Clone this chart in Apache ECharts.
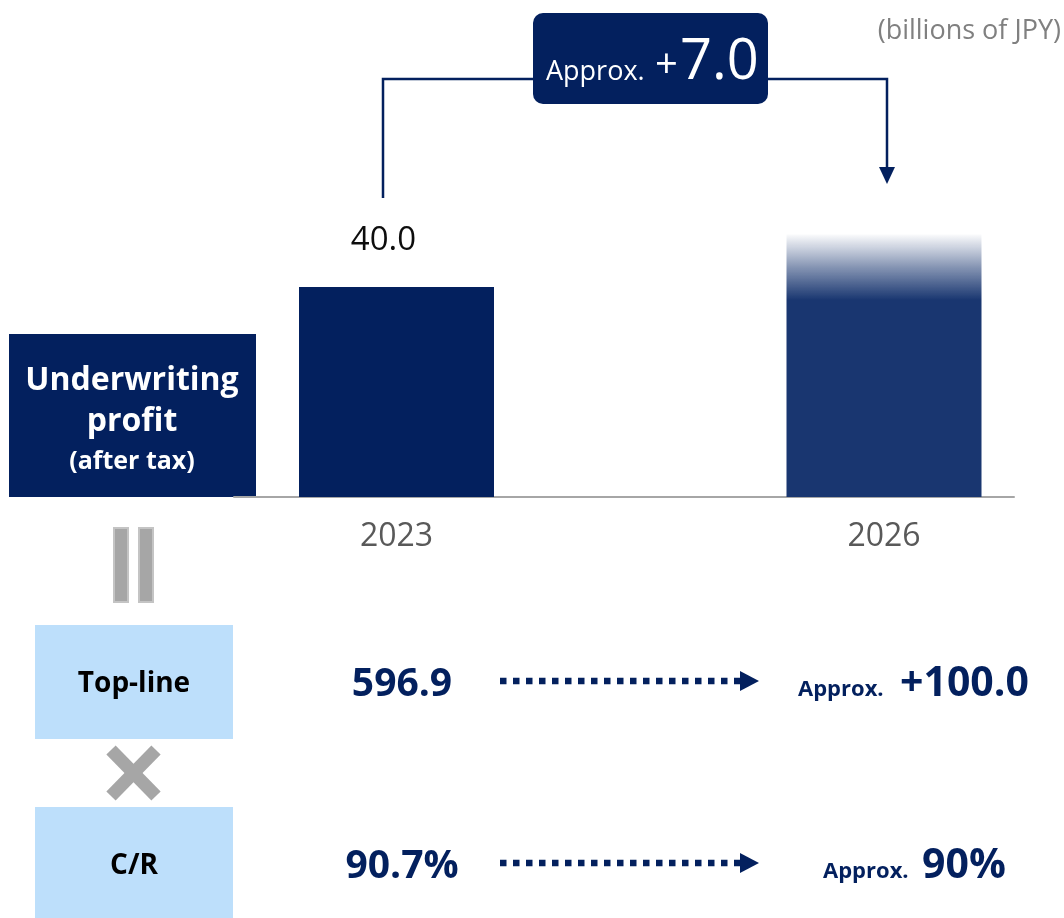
<!DOCTYPE html>
<html style="height: 100%">
<head>
<meta charset="utf-8">
<script src="https://cdn.jsdelivr.net/npm/echarts@6/dist/echarts.min.js"></script>
</head>
<body style="height: 100%; margin: 0; background: #fff">
<div id="container" style="width: 1064px; height: 918px"></div>
<script type="text/javascript">
// data
var years = [2023, 2026];
var profit = [40.0, 50.0];          // 2026 bar drawn to its faded top
var profitLabels = ['40.0', ''];
var deltaText = '+7.0';
var unitText = '(billions of JPY)';
var rowNames = ['Top-line', 'C/R'];
var rowNow = ['596.9', '90.7%'];
var rowTarget = ['+100.0', '90%'];

var NAVY = '#03205e';
var FONT = '"Open Sans", "Noto Sans", sans-serif';

var dom = document.getElementById('container');
var myChart = echarts.init(dom, null, { renderer: 'canvas' });

var fade = new echarts.graphic.LinearGradient(0, 0, 0, 1, [
    { offset: 0, color: 'rgba(25,54,112,0.02)' },
    { offset: 0.13, color: 'rgba(25,54,112,0.55)' },
    { offset: 0.25, color: '#193670' },
    { offset: 1, color: '#193670' }
]);

var barData = years.map(function (y, i) {
    return {
        value: [y, profit[i]],
        itemStyle: { color: i === 0 ? NAVY : fade },
        label: { show: profitLabels[i] !== '', formatter: profitLabels[i] }
    };
});

function txt(x, y, text, size, weight, color, align) {
    return {
        type: 'text', x: x, y: y, silent: true,
        style: {
            text: text, fontSize: size, fontWeight: weight, fontFamily: FONT,
            fill: color, align: align || 'center', verticalAlign: 'middle'
        }
    };
}

var graphics = [];
// connector from 2023 to 2026
graphics.push({ type: 'polyline', silent: true, shape: { points: [[383, 198], [383, 79], [535, 79]] },
    style: { stroke: NAVY, lineWidth: 2.5, fill: null } });
graphics.push({ type: 'polyline', silent: true, shape: { points: [[766, 79], [887, 79], [887, 170]] },
    style: { stroke: NAVY, lineWidth: 2.5, fill: null } });
graphics.push({ type: 'polygon', silent: true, shape: { points: [[879, 167], [895, 167], [887, 184]] },
    style: { fill: NAVY } });
graphics.push({ type: 'rect', silent: true, shape: { x: 533, y: 13, width: 235, height: 91, r: 10 },
    style: { fill: NAVY } });
graphics.push(txt(546, 72, 'Approx.', 27, 'normal', '#fff', 'left'));
graphics.push(txt(655, 67, deltaText.charAt(0), 40, 'normal', '#fff', 'left'));
graphics.push(txt(680, 63, deltaText.slice(1), 56, 'normal', '#fff', 'left'));
graphics.push(txt(1061, 31, unitText, 27, 'normal', '#808080', 'right'));

// left title box
graphics.push({ type: 'rect', silent: true, shape: { x: 9, y: 334, width: 247, height: 163 }, style: { fill: NAVY } });
graphics.push(txt(132, 381, 'Underwriting', 32, 'bold', '#fff'));
graphics.push(txt(132, 422, 'profit', 32, 'bold', '#fff'));
graphics.push(txt(132, 462, '(after tax)', 25, 'bold', '#fff'));

// "=" sign
[114, 139].forEach(function (x) {
    graphics.push({ type: 'rect', silent: true, shape: { x: x, y: 528, width: 14, height: 74 },
        style: { fill: '#a6a6a6', stroke: '#c4c4c4', lineWidth: 2 } });
});
// "x" sign
graphics.push({ type: 'line', silent: true, shape: { x1: 111, y1: 750, x2: 156, y2: 796 },
    style: { stroke: '#a6a6a6', lineWidth: 13 } });
graphics.push({ type: 'line', silent: true, shape: { x1: 156, y1: 750, x2: 111, y2: 796 },
    style: { stroke: '#a6a6a6', lineWidth: 13 } });

// driver rows
var rowY = [683, 865];
var rowBoxTop = [625, 807];
var approxX = [798, 823];
var targetX = [900, 922];
rowNames.forEach(function (name, i) {
    var cy = rowY[i];
    graphics.push({ type: 'rect', silent: true, shape: { x: 35, y: rowBoxTop[i], width: 198, height: 114 },
        style: { fill: '#bddffb' } });
    graphics.push(txt(134, cy + 1, name, 28, 'bold', '#000'));
    graphics.push(txt(402, cy + 2, rowNow[i], 39, 'bold', NAVY));
    graphics.push({ type: 'line', silent: true, shape: { x1: 500, y1: cy - 2, x2: 741, y2: cy - 2 },
        style: { stroke: NAVY, lineWidth: 6.5, lineDash: [6.5, 6.5] } });
    graphics.push({ type: 'polygon', silent: true,
        shape: { points: [[740, cy - 12], [759, cy - 2], [740, cy + 8]] }, style: { fill: NAVY } });
    graphics.push(txt(approxX[i], cy + 7, 'Approx.', 22, 'bold', NAVY, 'left'));
    graphics.push(txt(targetX[i], cy + 1, rowTarget[i], 41, 'bold', NAVY, 'left'));
});

var option = {
    animation: false,
    grid: { left: 234, right: 50, top: 77, bottom: 421, outerBoundsMode: 'none' },
    xAxis: {
        type: 'value',
        min: 2022,
        max: 2026.8,
        interval: 1,
        axisLine: { show: true, onZero: false, lineStyle: { color: '#a6a6a6', width: 2 } },
        axisTick: { show: false },
        splitLine: { show: false },
        axisLabel: {
            margin: 24,
            fontSize: 32,
            fontFamily: FONT,
            color: '#595959',
            formatter: function (v) {
                return years.indexOf(v) >= 0 ? String(v) : '';
            }
        }
    },
    yAxis: {
        type: 'value',
        min: 0,
        max: 80,
        show: false,
        splitLine: { show: false }
    },
    series: [{
        type: 'bar',
        barWidth: 195,
        data: barData,
        label: {
            position: 'top',
            distance: 30,
            offset: [-13, 0],
            fontSize: 33,
            fontFamily: FONT,
            color: '#0d0d0d'
        }
    }],
    graphic: graphics
};

myChart.setOption(option);
</script>
</body>
</html>
